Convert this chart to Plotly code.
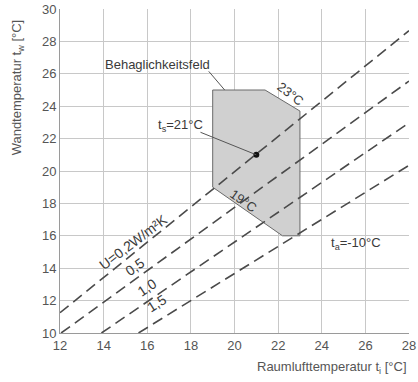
import plotly.graph_objects as go

# ---- data ----
x_ticks = [12, 14, 16, 18, 20, 22, 24, 26, 28]
y_ticks = [10, 12, 14, 16, 18, 20, 22, 24, 26, 28, 30]

u_names = ["U=0,2W/m²K", "0,5", "1,0", "1,5"]
u_line_x = [[12.0, 28.0], [12.05, 28.0], [13.9, 28.0], [15.6, 28.0]]
u_line_y = [[11.25, 28.66], [10.0, 25.55], [10.0, 22.97], [10.0, 20.35]]

comfort_x = [19.0, 19.0, 21.4, 23.0, 23.0, 22.2, 19.0]
comfort_y = [19.0, 25.0, 25.0, 23.7, 16.0, 16.0, 19.0]

point_x = [21.0]
point_y = [21.0]

FONT = "Liberation Sans, Arial, Helvetica, sans-serif"
TXT = "#3a3a3a"
TICK = "#555555"

fig = go.Figure()

fig.add_trace(go.Scatter(
    x=comfort_x, y=comfort_y, mode="lines", fill="toself",
    fillcolor="#d0d0d0", line=dict(color="#6a6a6a", width=1),
    hoverinfo="skip", showlegend=False))

for lx, ly in zip(u_line_x, u_line_y):
    fig.add_trace(go.Scatter(
        x=lx, y=ly, mode="lines",
        line=dict(color="#4a4a4a", width=1.6, dash="11px,6px"),
        hoverinfo="skip", showlegend=False))

fig.add_trace(go.Scatter(
    x=point_x, y=point_y, mode="markers",
    marker=dict(color="#111111", size=6),
    hoverinfo="skip", showlegend=False))

# leader lines
fig.add_shape(type="line", x0=18.82, y0=26.15, x1=19.55, y1=25.0,
              line=dict(color="#555555", width=1))
fig.add_shape(type="line", x0=18.44, y0=22.39, x1=point_x[0], y1=point_y[0],
              line=dict(color="#555555", width=1))

ann = []
def a(text, x, y, angle=0, size=13, xs=0, ys=0):
    ann.append(dict(text=text, x=x, y=y, xref="x", yref="y", showarrow=False,
                    xanchor="center", yanchor="middle", textangle=angle,
                    xshift=xs, yshift=ys,
                    font=dict(family=FONT, size=size, color=TXT)))

a("Behaglichkeitsfeld", 16.47, 26.55)
a("t<sub>s</sub>=21°C", 17.53, 22.8)
a("23°C", 22.41, 24.71, angle=38, xs=3, ys=1)
a("19°C", 20.39, 18.18, angle=35)
a("t<sub>a</sub>=-10°C", 25.56, 15.54)

label_pos = [(15.55, 15.29, -37), (15.6, 13.77, -35), (16.19, 12.54, -34), (16.64, 11.52, -32)]
for name, (lx, ly, ang) in zip(u_names, label_pos):
    a(name, lx, ly, angle=ang, size=14, xs=-4, ys=5)

# axis titles
ann.append(dict(text="Wandtemperatur t<sub>w</sub> [°C]",
                x=-43/356, y=(333-86)/326, xref="paper", yref="paper",
                xanchor="center", yanchor="middle", showarrow=False, textangle=-90,
                font=dict(family=FONT, size=13, color=TICK)))
ann.append(dict(text="Raumlufttemperatur t<sub>i</sub> [°C]",
                x=1.0, y=-35/326, xref="paper", yref="paper",
                xanchor="right", yanchor="middle", showarrow=False,
                font=dict(family=FONT, size=13, color=TICK)))

fig.update_layout(
    annotations=ann,
    width=418, height=382, autosize=False,
    margin=dict(l=60, r=2, t=7, b=49),
    paper_bgcolor="white", plot_bgcolor="white",
    font=dict(family=FONT, size=13, color=TICK),
    showlegend=False,
    xaxis=dict(range=[12, 28], tickvals=x_ticks, ticktext=[str(v) for v in x_ticks],
               showgrid=True, gridcolor="#c8c8c8", gridwidth=1,
               showline=True, linecolor="#9a9a9a", linewidth=1,
               ticks="", zeroline=False, fixedrange=True,
               ticklabeloverflow="allow",
               tickfont=dict(family=FONT, size=13, color=TICK)),
    yaxis=dict(range=[10, 30], tickvals=y_ticks, ticktext=[str(v) for v in y_ticks],
               showgrid=True, gridcolor="#c8c8c8", gridwidth=1,
               showline=True, linecolor="#9a9a9a", linewidth=1,
               ticks="", zeroline=False, fixedrange=True,
               ticklabeloverflow="allow",
               tickfont=dict(family=FONT, size=13, color=TICK)),
)

fig.write_html("out.html", config={"displayModeBar": False},
               post_script="document.body.style.margin='0px';")
